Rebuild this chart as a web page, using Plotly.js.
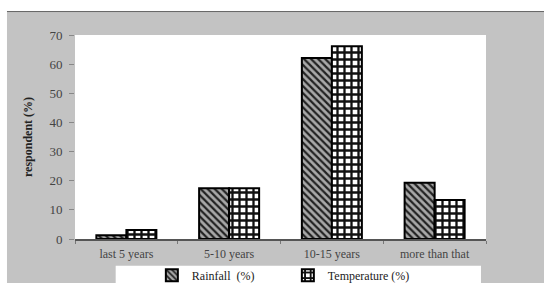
<!DOCTYPE html>
<html>
<head>
<meta charset="utf-8">
<script src="https://cdn.plot.ly/plotly-3.0.1.min.js"></script>
<style>html,body{margin:0;padding:0;background:#fff;}#chart{width:544px;height:283px;}</style>
</head>
<body>
<div id="chart"></div>
<script>
const categories = ["last 5 years", "5-10 years", "10-15 years", "more than that"];
const rainfall = [1.3, 17.4, 62.1, 19.3];
const temperature = [3.1, 17.4, 66.1, 13.4];
const yTicks = [0, 10, 20, 30, 40, 50, 60, 70];

const serif = "Liberation Serif, Times New Roman, serif";

const traces = [
  {
    type: "bar", name: "Rainfall  (%)", x: categories, y: rainfall,
    marker: {
      color: "#9a9a9a",
      line: {color: "#000", width: 2},
      pattern: {shape: "\\", fgcolor: "#222", bgcolor: "#a8a8a8", size: 5, solidity: 0.45, fillmode: "replace"}
    }
  },
  {
    type: "bar", name: "Temperature (%)", x: categories, y: temperature,
    marker: {
      color: "#ffffff",
      line: {color: "#000", width: 2},
      pattern: {shape: "+", fgcolor: "#111", bgcolor: "#ffffff", size: 7, solidity: 0.55, fillmode: "replace"}
    }
  }
];

const layout = {
  width: 544, height: 283,
  margin: {l: 75, r: 58, t: 34.5, b: 44, pad: 0, autoexpand: false},
  paper_bgcolor: "#c3c3c3",
  plot_bgcolor: "#ffffff",
  barmode: "group", bargap: 0.416, bargroupgap: 0,
  font: {family: serif, color: "#444", size: 12},
  showlegend: true,
  legend: {
    orientation: "h", x: 0.187, xanchor: "left", y: -0.178, yanchor: "middle",
    bgcolor: "rgba(0,0,0,0)", font: {family: serif, size: 12, color: "#222"},
    entrywidth: 91, entrywidthmode: "pixels", itemwidth: 30, traceorder: "normal"
  },
  xaxis: {
    type: "category", showline: true, linecolor: "#555", linewidth: 1.5,
    ticks: "outside", tickson: "boundaries", ticklen: 3, tickcolor: "#777",
    ticklabelstandoff: 3,
    tickfont: {family: serif, size: 12, color: "#444"}, showgrid: false, fixedrange: true
  },
  yaxis: {
    range: [0, 70], tickvals: yTicks, ticktext: yTicks.map(String),
    ticks: "outside", ticklen: 5, tickcolor: "#888", showline: false, showgrid: false, zeroline: false,
    ticklabelstandoff: 4,
    tickfont: {family: serif, size: 13, color: "#444"},
    title: {text: "<b>respondent (%)</b>", font: {family: serif, size: 12, color: "#222"}, standoff: 14},
    fixedrange: true
  },
  shapes: [
    {type: "rect", xref: "paper", yref: "paper", x0: -0.3, x1: 1.3, y0: 1.115, y1: 1.4, fillcolor: "#ffffff", line: {width: 0}, layer: "below"},
    {type: "rect", xref: "paper", yref: "paper", x0: -0.3, x1: -0.1655, y0: -0.4, y1: 1.4, fillcolor: "#ffffff", line: {width: 0}, layer: "below"},
    {type: "line", xref: "paper", yref: "paper", x0: -0.1655, x1: 1.3, y0: 1.115, y1: 1.115, line: {color: "#666", width: 1}, layer: "below"},
    {type: "rect", xref: "paper", yref: "paper", x0: 0.0990, x1: 0.9878, y0: -0.1306, y1: -0.4, fillcolor: "#ffffff", line: {width: 0}, layer: "below"}
  ]
};

Plotly.newPlot("chart", traces, layout, {displayModeBar: false, staticPlot: true});
</script>
</body>
</html>
